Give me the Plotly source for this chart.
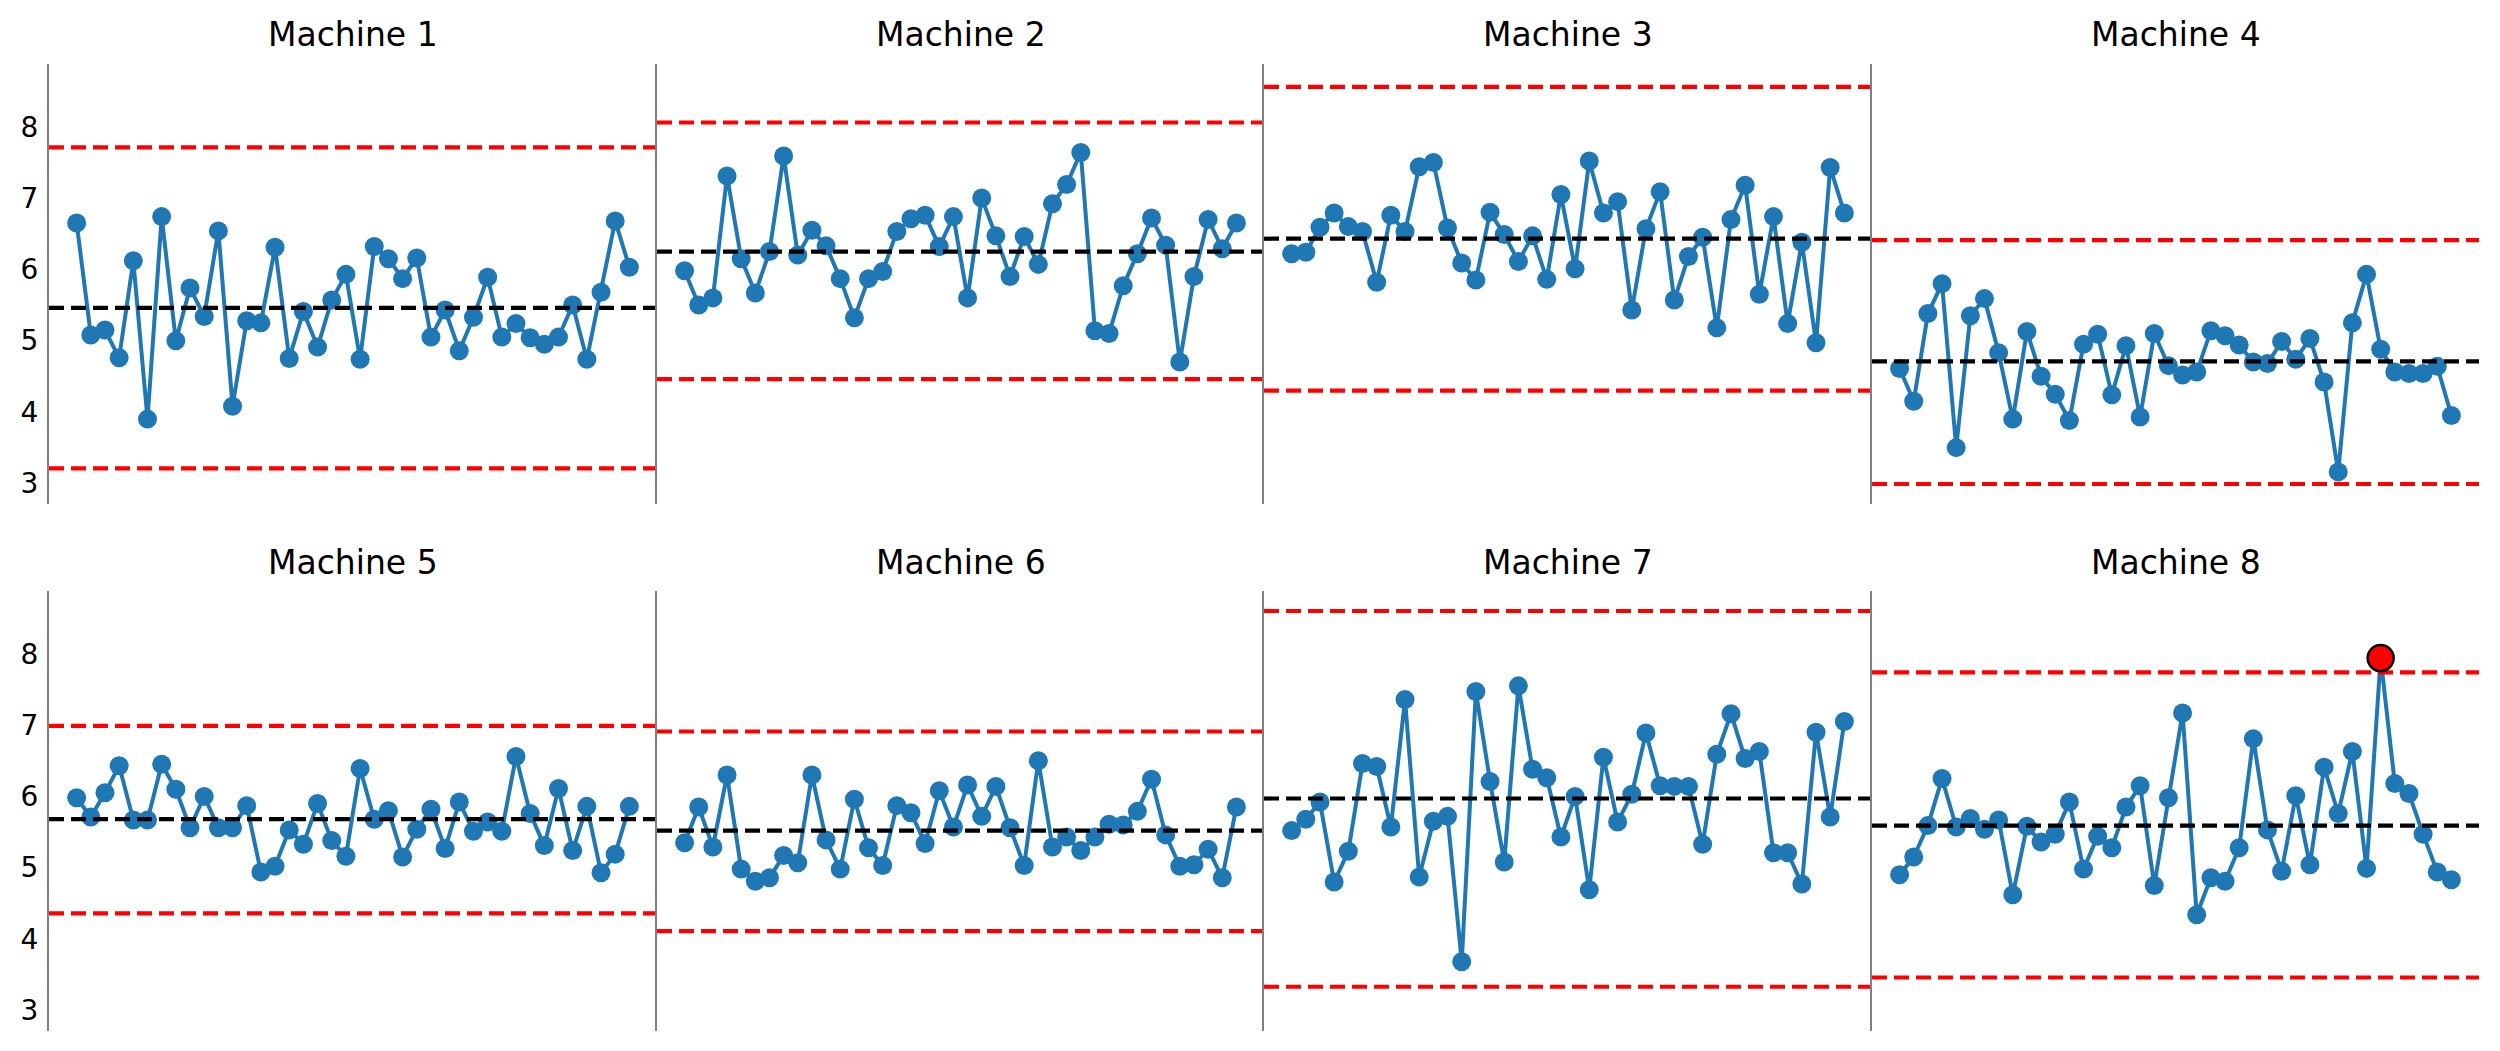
import plotly.graph_objects as go

# ---------------- data ----------------
machines = ["Machine 1", "Machine 2", "Machine 3", "Machine 4",
            "Machine 5", "Machine 6", "Machine 7", "Machine 8"]
samples = list(range(1, 41))

m1 = [6.65, 5.08, 5.15, 4.76, 6.12, 3.90, 6.74, 5.00, 5.74, 5.34, 6.54, 4.08, 5.28, 5.25, 6.31, 4.75, 5.41, 4.91, 5.57, 5.93,
      4.74, 6.32, 6.15, 5.87, 6.16, 5.05, 5.43, 4.86, 5.33, 5.89, 5.05, 5.24, 5.04, 4.95, 5.05, 5.50, 4.74, 5.68, 6.68, 6.03]
m2 = [5.98, 5.50, 5.60, 7.31, 6.15, 5.67, 6.25, 7.59, 6.20, 6.55, 6.33, 5.87, 5.32, 5.87, 5.97, 6.53, 6.71, 6.76, 6.32, 6.74,
      5.60, 7.00, 6.47, 5.90, 6.46, 6.07, 6.92, 7.19, 7.64, 5.14, 5.10, 5.77, 6.22, 6.72, 6.34, 4.70, 5.90, 6.70, 6.29, 6.65]
m3 = [6.22, 6.24, 6.59, 6.79, 6.60, 6.53, 5.82, 6.76, 6.53, 7.44, 7.50, 6.58, 6.09, 5.85, 6.80, 6.49, 6.11, 6.47, 5.86, 7.05,
      6.01, 7.52, 6.79, 6.95, 5.43, 6.57, 7.09, 5.57, 6.18, 6.45, 5.18, 6.70, 7.18, 5.65, 6.74, 5.24, 6.38, 4.97, 7.43, 6.79]
m4 = [4.61, 4.15, 5.38, 5.80, 3.50, 5.35, 5.59, 4.83, 3.90, 5.13, 4.50, 4.25, 3.88, 4.95, 5.09, 4.24, 4.93, 3.93, 5.10, 4.65,
      4.52, 4.56, 5.14, 5.07, 4.94, 4.70, 4.68, 4.99, 4.74, 5.03, 4.42, 3.16, 5.25, 5.93, 4.88, 4.56, 4.54, 4.54, 4.64, 3.95]
m5 = [5.98, 5.71, 6.05, 6.43, 5.67, 5.67, 6.45, 6.10, 5.56, 6.00, 5.56, 5.56, 5.87, 4.94, 5.02, 5.53, 5.33, 5.90, 5.38, 5.16,
      6.39, 5.68, 5.80, 5.15, 5.54, 5.82, 5.27, 5.92, 5.51, 5.64, 5.51, 6.56, 5.76, 5.31, 6.11, 5.24, 5.86, 4.93, 5.19, 5.86]
m6 = [5.35, 5.85, 5.29, 6.30, 4.98, 4.81, 4.86, 5.17, 5.07, 6.30, 5.39, 4.98, 5.96, 5.28, 5.03, 5.87, 5.77, 5.34, 6.08, 5.57,
      6.16, 5.72, 6.14, 5.56, 5.03, 6.50, 5.29, 5.43, 5.24, 5.43, 5.61, 5.60, 5.79, 6.24, 5.46, 5.02, 5.04, 5.26, 4.86, 5.85]
m7 = [5.52, 5.68, 5.92, 4.80, 5.23, 6.46, 6.42, 5.57, 7.36, 4.87, 5.65, 5.72, 3.68, 7.47, 6.21, 5.08, 7.55, 6.38, 6.26, 5.43,
      6.00, 4.69, 6.55, 5.64, 6.03, 6.89, 6.15, 6.14, 6.14, 5.33, 6.59, 7.16, 6.53, 6.63, 5.21, 5.21, 4.77, 6.90, 5.71, 7.05]
m8 = [4.90, 5.15, 5.59, 6.25, 5.57, 5.69, 5.54, 5.67, 4.62, 5.58, 5.36, 5.47, 5.92, 4.98, 5.44, 5.28, 5.85, 6.15, 4.75, 5.98,
      7.17, 4.34, 4.86, 4.81, 5.28, 6.81, 5.53, 4.95, 6.01, 5.04, 6.41, 5.76, 6.63, 4.99, 7.94, 6.18, 6.04, 5.47, 4.94, 4.83]
series = [m1, m2, m3, m4, m5, m6, m7, m8]

center_line = [5.46, 6.25, 6.43, 4.71, 5.68, 5.52, 5.97, 5.59]
upper_limit = [7.71, 8.06, 8.56, 6.41, 6.99, 6.91, 8.60, 7.74]
lower_limit = [3.21, 4.46, 4.30, 2.99, 4.36, 4.11, 3.33, 3.46]

y_ticks = [3, 4, 5, 6, 7, 8]

# ---------------- layout geometry ----------------
# the page body keeps a default 8px margin, so the figure is made 8px smaller
# and every page position is shifted by that amount
PAGE_M = 8
W, H = 2500 - PAGE_M, 1051 - PAGE_M
col_px = [(49, 657), (657, 1264), (1264, 1872), (1872, 2479)]
row_px = [(64, 504), (591, 1031)]

BLUE = "#1f77b4"
FONT = "DejaVu Sans"

# shared y range (matplotlib-like 5% margins over all plotted values)
all_vals = [v for s in series for v in s] + upper_limit + lower_limit + center_line
lo, hi = min(all_vals), max(all_vals)
span = hi - lo
y_range = [lo - 0.05 * span, hi + 0.05 * span]
xspan = samples[-1] - samples[0]
x_range = [samples[0] - 0.05 * xspan, samples[-1] + 0.05 * xspan]

fig = go.Figure()
annotations = []

for i, name in enumerate(machines):
    r, c = divmod(i, 4)
    k = i + 1
    xa = "x" if k == 1 else f"x{k}"
    ya = "y" if k == 1 else f"y{k}"
    vals = series[i]

    # data line
    fig.add_trace(go.Scatter(
        x=samples, y=vals, mode="lines+markers",
        line=dict(color=BLUE, width=4),
        marker=dict(color=BLUE, size=19),
        xaxis=xa, yaxis=ya, showlegend=False, hoverinfo="x+y"))

    # control lines
    for val, col in [(center_line[i], "black"), (upper_limit[i], "red"), (lower_limit[i], "red")]:
        fig.add_trace(go.Scatter(
            x=x_range, y=[val, val], mode="lines",
            line=dict(color=col, width=4.2, dash="15px,7px"),
            xaxis=xa, yaxis=ya, showlegend=False, hoverinfo="y"))

    # out-of-control points
    ox = [s for s, v in zip(samples, vals) if v > upper_limit[i] or v < lower_limit[i]]
    oy = [v for v in vals if v > upper_limit[i] or v < lower_limit[i]]
    if ox:
        fig.add_trace(go.Scatter(
            x=ox, y=oy, mode="markers",
            marker=dict(color="red", size=26, line=dict(color="black", width=2.5)),
            xaxis=xa, yaxis=ya, showlegend=False, hoverinfo="x+y"))

    x0, x1 = (p - PAGE_M for p in col_px[c])
    y0, y1 = (p - PAGE_M for p in row_px[r])
    xdom = [x0 / W, x1 / W]
    ydom = [1 - y1 / H, 1 - y0 / H]

    fig.layout[("xaxis" if k == 1 else f"xaxis{k}")] = dict(
        domain=xdom, range=x_range, anchor=ya,
        visible=False, showgrid=False, zeroline=False, fixedrange=True)
    fig.layout[("yaxis" if k == 1 else f"yaxis{k}")] = dict(
        domain=ydom, range=y_range, anchor=xa,
        showgrid=False, zeroline=False,
        showline=True, linecolor="gray", linewidth=2,
        ticks="", tickvals=y_ticks, showticklabels=(c == 0),
        tickfont=dict(family=FONT, size=28, color="black"),
        ticklabelstandoff=3)

    annotations.append(dict(
        text=name, x=(x0 + x1) / 2 / W, y=1 - (y0 - 29) / H,
        xref="paper", yref="paper", xanchor="center", yanchor="middle",
        showarrow=False, font=dict(family=FONT, size=33, color="black")))

fig.update_layout(
    width=W, height=H,
    margin=dict(l=0, r=0, t=0, b=0),
    paper_bgcolor="white", plot_bgcolor="white",
    annotations=annotations,
    font=dict(family=FONT),
)

fig.write_html("out.html")
